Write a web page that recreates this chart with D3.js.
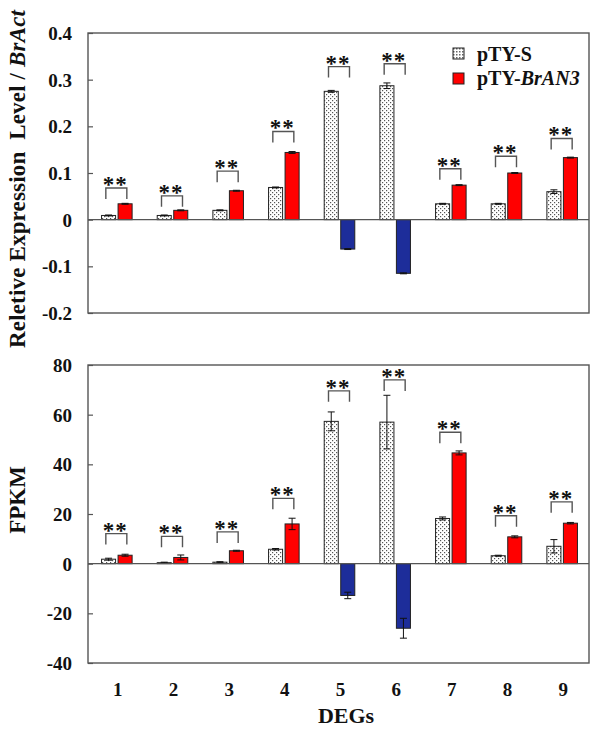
<!DOCTYPE html>
<html>
<head>
<meta charset="utf-8">
<script src="https://cdn.jsdelivr.net/npm/d3@7"></script>
<style>
  html, body { margin: 0; padding: 0; background: #fff; }
  svg { display: block; }
  text { font-family: "Liberation Serif", serif; font-weight: bold; fill: #111; }
</style>
</head>
<body>
<svg id="chart" width="600" height="730"></svg>
<script>
// ---------------- data ----------------
const categories = ["1", "2", "3", "4", "5", "6", "7", "8", "9"];
const seriesNames = ["pTY-S", "pTY-BrAN3"];

// Relative expression level / BrAct (qRT-PCR)
const relControl    = [0.009, 0.009, 0.020, 0.069, 0.275, 0.287, 0.034, 0.034, 0.060];
const relControlErr = [0.001, 0.001, 0.001, 0.001, 0.002, 0.006, 0.001, 0.001, 0.004];
const relAN3        = [0.034, 0.020, 0.062, 0.144, -0.063, -0.115, 0.074, 0.100, 0.133];
const relAN3Err     = [0.001, 0.001, 0.001, 0.002, 0.001, 0.001, 0.001, 0.001, 0.001];
const relSigLevel   = [0.068, 0.051, 0.104, 0.189, 0.328, 0.334, 0.109, 0.136, 0.174];
const relTicks      = [-0.2, -0.1, 0, 0.1, 0.2, 0.3, 0.4];
const relTickLabels = ["-0.2", "-0.1", "0", "0.1", "0.2", "0.3", "0.4"];

// FPKM (RNA-seq)
const fpkmControl    = [1.8, 0.4, 0.6, 5.8, 57.3, 57.0, 18.2, 3.2, 7.0];
const fpkmControlErr = [0.4, 0.2, 0.2, 0.3, 3.8, 10.8, 0.6, 0.2, 2.7];
const fpkmAN3        = [3.4, 2.5, 5.2, 16.0, -12.8, -26.0, 44.6, 10.8, 16.3];
const fpkmAN3Err     = [0.4, 1.0, 0.2, 2.3, 1.3, 4.0, 0.8, 0.4, 0.3];
const fpkmSigLevel   = [12.1, 11.0, 12.8, 26.3, 69.6, 74.0, 52.9, 19.3, 24.9];
const fpkmTicks      = [-40, -20, 0, 20, 40, 60, 80];
const fpkmTickLabels = ["-40", "-20", "0", "20", "40", "60", "80"];

// ---------------- drawing ----------------
const svg = d3.select("#chart");
const defs = svg.append("defs");

const pat = defs.append("pattern").attr("id", "dots")
  .attr("patternUnits", "userSpaceOnUse").attr("width", 4).attr("height", 4);
pat.append("rect").attr("width", 4).attr("height", 4).attr("fill", "#fff");
pat.append("rect").attr("x", 0).attr("y", 0).attr("width", 1.2).attr("height", 1.2).attr("fill", "#555");
pat.append("rect").attr("x", 2).attr("y", 2).attr("width", 1.2).attr("height", 1.2).attr("fill", "#555");

const patL = defs.append("pattern").attr("id", "dotsL")
  .attr("patternUnits", "userSpaceOnUse").attr("width", 3).attr("height", 3);
patL.append("rect").attr("width", 3).attr("height", 3).attr("fill", "#fff");
patL.append("rect").attr("x", 0).attr("y", 0).attr("width", 1.5).attr("height", 1.5).attr("fill", "#666");

const RED = "#ff0000", BLUE = "#1d2d9a", EDGE = "#222", FRAME = "#555";
const FONT = "Liberation Serif, serif";

const plotL = 88, plotR = 589;
const x0 = d3.scaleBand().domain(categories).range([plotL + 1, plotR + 1]).padding(0);
const x1 = d3.scaleBand().domain(seriesNames).range([0, x0.bandwidth()])
  .paddingInner(0.15).paddingOuter(0.76);

function panel(opts) {
  const { y, control, controlErr, an3, an3Err, sig, ticks, tickLabels } = opts;
  const g = svg.append("g");
  const top = y.range()[1], bottom = y.range()[0];

  // y axis (inward ticks)
  const axis = d3.axisLeft(y).tickValues(ticks)
    .tickFormat((d, i) => tickLabels[i]).tickSize(-5).tickPadding(0);
  const ag = g.append("g").attr("transform", `translate(${plotL},0)`).call(axis)
    .attr("font-family", FONT).attr("font-size", 19);
  ag.select(".domain").remove();
  ag.selectAll(".tick line").attr("stroke", FRAME).attr("stroke-width", 1.2);
  ag.selectAll(".tick text").attr("x", -16).attr("dy", "0.34em")
    .style("font-size", "19px").style("font-family", FONT)
    .style("font-weight", "bold").attr("fill", "#111");

  // bars
  const rows = categories.map((c, i) => ({ c, i }));
  const bars = g.append("g");
  bars.selectAll("rect.ctl").data(rows).join("rect").attr("class", "ctl")
    .attr("x", d => x0(d.c) + x1(seriesNames[0]))
    .attr("width", x1.bandwidth())
    .attr("y", d => y(Math.max(0, control[d.i])))
    .attr("height", d => Math.abs(y(control[d.i]) - y(0)))
    .attr("fill", "url(#dots)").attr("stroke", EDGE).attr("stroke-width", 1);
  bars.selectAll("rect.an3").data(rows).join("rect").attr("class", "an3")
    .attr("x", d => x0(d.c) + x1(seriesNames[1]))
    .attr("width", x1.bandwidth())
    .attr("y", d => y(Math.max(0, an3[d.i])))
    .attr("height", d => Math.abs(y(an3[d.i]) - y(0)))
    .attr("fill", d => an3[d.i] >= 0 ? RED : BLUE).attr("stroke", EDGE).attr("stroke-width", 1);

  // error bars
  const errs = [];
  rows.forEach(d => {
    errs.push({ cx: x0(d.c) + x1(seriesNames[0]) + x1.bandwidth() / 2, v: control[d.i], e: controlErr[d.i] });
    errs.push({ cx: x0(d.c) + x1(seriesNames[1]) + x1.bandwidth() / 2, v: an3[d.i], e: an3Err[d.i] });
  });
  const eg = g.append("g").attr("stroke", "#111").attr("stroke-width", 1);
  errs.forEach(d => {
    eg.append("line").attr("x1", d.cx).attr("x2", d.cx).attr("y1", y(d.v - d.e)).attr("y2", y(d.v + d.e));
    eg.append("line").attr("x1", d.cx - 3.5).attr("x2", d.cx + 3.5).attr("y1", y(d.v + d.e)).attr("y2", y(d.v + d.e));
    eg.append("line").attr("x1", d.cx - 3.5).attr("x2", d.cx + 3.5).attr("y1", y(d.v - d.e)).attr("y2", y(d.v - d.e));
  });

  // zero line
  g.append("line").attr("x1", plotL).attr("x2", plotR).attr("y1", y(0)).attr("y2", y(0))
    .attr("stroke", FRAME).attr("stroke-width", 1.3);

  // significance brackets
  const sg = g.append("g");
  rows.forEach(d => {
    const cx = x0(d.c) + x0.bandwidth() / 2 - 0.5;
    const yt = y(sig[d.i]);
    sg.append("path")
      .attr("d", `M${cx - 10.5},${yt + 11}V${yt}H${cx + 10.5}V${yt + 11}`)
      .attr("fill", "none").attr("stroke", "#555").attr("stroke-width", 1.4);
    sg.append("text").attr("x", cx - 1).attr("y", yt + 4)
      .attr("text-anchor", "middle").style("font-size", "23px").style("font-weight", "bold")
      .style("letter-spacing", "1px").attr("fill", "#444").text("**");
  });

  // frame
  g.append("rect").attr("x", plotL).attr("y", top).attr("width", plotR - plotL).attr("height", bottom - top)
    .attr("fill", "none").attr("stroke", FRAME).attr("stroke-width", 1.4);
  return g;
}

const yRel = d3.scaleLinear().domain([-0.2, 0.4]).range([313, 33]);
const yFpkm = d3.scaleLinear().domain([-40, 80]).range([663, 365]);

panel({ y: yRel, control: relControl, controlErr: relControlErr, an3: relAN3, an3Err: relAN3Err,
  sig: relSigLevel, ticks: relTicks, tickLabels: relTickLabels });
panel({ y: yFpkm, control: fpkmControl, controlErr: fpkmControlErr, an3: fpkmAN3, an3Err: fpkmAN3Err,
  sig: fpkmSigLevel, ticks: fpkmTicks, tickLabels: fpkmTickLabels });

// x labels
svg.append("g").selectAll("text").data(categories).join("text")
  .attr("x", d => x0(d) + x0.bandwidth() / 2 + 1)
  .attr("y", 696)
  .attr("text-anchor", "middle").style("font-size", "19px").text(d => d);

svg.append("text").attr("x", 346).attr("y", 723).attr("text-anchor", "middle")
  .style("font-size", "22px").text("DEGs");

// y titles
const t1 = svg.append("text").attr("transform", "translate(25,179) rotate(-90)")
  .attr("text-anchor", "middle").attr("textLength", 338).attr("lengthAdjust", "spacing")
  .style("font-size", "23px").style("white-space", "pre");
t1.append("tspan").text("Reletive Expression  Level / ");
t1.append("tspan").style("font-style", "italic").text("BrAct");

svg.append("text").attr("transform", "translate(25,500) rotate(-90)")
  .attr("text-anchor", "middle").style("font-size", "23px").text("FPKM");

// legend
const lg = svg.append("g");
lg.append("rect").attr("x", 453).attr("y", 48).attr("width", 11).attr("height", 11)
  .attr("fill", "url(#dotsL)").attr("stroke", EDGE).attr("stroke-width", 1);
lg.append("rect").attr("x", 453).attr("y", 73).attr("width", 11).attr("height", 11)
  .attr("fill", RED).attr("stroke", EDGE).attr("stroke-width", 1);
const l1 = lg.append("text").attr("x", 477).attr("y", 61).style("font-size", "20px");
l1.append("tspan").text("pTY-S");
const l2 = lg.append("text").attr("x", 477).attr("y", 85).style("font-size", "20px");
l2.append("tspan").text("pTY-");
l2.append("tspan").style("font-style", "italic").text("BrAN3");
</script>
</body>
</html>
